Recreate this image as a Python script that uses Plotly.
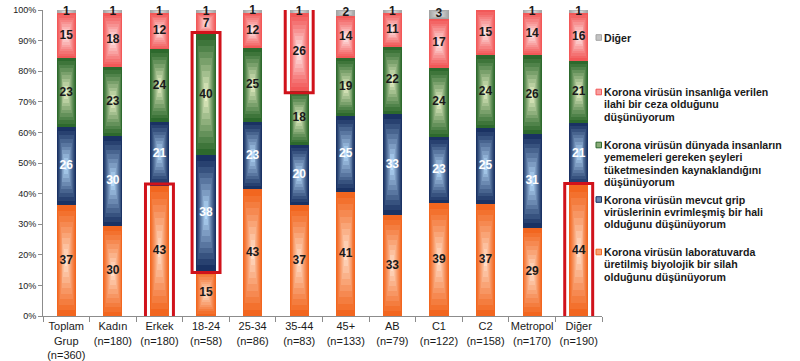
import plotly.graph_objects as go

# ---------------- data ----------------
categories = ["Toplam<br>Grup<br>(n=360)", "Kadın<br>(n=180)", "Erkek<br>(n=180)",
              "18-24<br>(n=58)", "25-34<br>(n=86)", "35-44<br>(n=83)", "45+<br>(n=133)",
              "AB<br>(n=79)", "C1<br>(n=122)", "C2<br>(n=158)", "Metropol<br>(n=170)",
              "Diğer<br>(n=190)"]

lab_weapon = [37, 30, 43, 15, 43, 37, 41, 33, 39, 37, 29, 44]
flu_evolved = [26, 30, 21, 38, 23, 20, 25, 33, 23, 25, 31, 21]
forbidden_food = [23, 23, 24, 40, 25, 18, 19, 22, 24, 24, 26, 21]
divine_punishment = [15, 18, 12, 7, 12, 26, 14, 11, 17, 15, 14, 16]
other = [1, 1, 1, 1, 1, 1, 2, 1, 3, 0, 1, 1]

series_names = [
    ["Korona virüsün laboratuvarda", "üretilmiş biyolojik bir silah", "olduğunu düşünüyorum"],
    ["Korona virüsün mevcut grip", "virüslerinin evrimleşmiş bir hali", "olduğunu düşünüyorum"],
    ["Korona virüsün dünyada insanların", "yememeleri gereken şeyleri",
     "tüketmesinden kaynaklandığını", "düşünüyorum"],
    ["Korona virüsün insanlığa verilen", "ilahi bir ceza olduğunu", "düşünüyorum"],
    ["Diğer"],
]
series_values = [lab_weapon, flu_evolved, forbidden_food, divine_punishment, other]

y_tick_vals = [0, 10, 20, 30, 40, 50, 60, 70, 80, 90, 100]
y_tick_text = ["0%", "10%", "20%", "30%", "40%", "50%", "60%", "70%", "80%", "90%", "100%"]

# highlighted (category index, series indices)
highlights = [(2, [0]), (3, [1, 2]), (5, [3, 4]), (11, [0])]

# ---------------- styles ----------------
edge_colors = ["#F2661F", "#1A3263", "#2D692D", "#F25858", "#A4A4A4"]
center_colors = ["#FFDCC6", "#B4D8F8", "#E6EFC4", "#FFE6E6", "#E2E2E2"]
label_colors = ["#1A1A1A", "#FFFFFF", "#1A1A1A", "#1A1A1A", "#1A1A1A"]
legend_first_line_px = [37.5, 92, 145, 199.5, 252][::-1]
LINE_H = 12.4

W_PX, H_PX = 800, 361
ML, MR, MT, MB = 43, 198, 10, 45
PLOT_W = W_PX - ML - MR
PLOT_H = H_PX - MT - MB
BAR_W = 0.41
N_LAYERS = 10


def hex2rgb(h):
    h = h.lstrip("#")
    return tuple(int(h[i:i + 2], 16) for i in (0, 2, 4))


def mix(c1, c2, t):
    a, b = hex2rgb(c1), hex2rgb(c2)
    return "rgb(%d,%d,%d)" % tuple(round(a[i] + (b[i] - a[i]) * t) for i in range(3))


def px_x(px):  # pixel -> paper
    return (px - ML) / PLOT_W


def px_y(py):
    return (H_PX - MB - py) / PLOT_H


n_cat = len(categories)
totals = [sum(s[i] for s in series_values) for i in range(n_cat)]
pcts = [[s[i] / totals[i] * 100 for i in range(n_cat)] for s in series_values]
bases = []
run = [0.0] * n_cat
for p in pcts:
    bases.append(run[:])
    run = [run[i] + p[i] for i in range(n_cat)]

fig = go.Figure()

# gradient-filled stacked segments (nested rectangles emulate path gradient)
for si, (p, b) in enumerate(zip(pcts, bases)):
    for k in range(N_LAYERS):
        s = 1 - k / N_LAYERS
        t = (k / (N_LAYERS - 1)) ** 1.1
        fig.add_trace(go.Bar(
            x=categories,
            y=[p[i] * s for i in range(n_cat)],
            base=[b[i] + p[i] * (1 - s) / 2 for i in range(n_cat)],
            width=BAR_W * s,
            marker=dict(color=mix(edge_colors[si], center_colors[si], t), line=dict(width=0)),
            name=" ".join(series_names[si]),
            showlegend=False,
            hoverinfo="skip" if k else "y+name",
        ))

# value labels
for si, (p, b) in enumerate(zip(pcts, bases)):
    vals = series_values[si]
    fig.add_trace(go.Scatter(
        x=categories,
        y=[b[i] + p[i] / 2 for i in range(n_cat)],
        text=[str(v) if v > 0 else "" for v in vals],
        mode="text",
        textposition="middle center",
        textfont=dict(family="Arial, Liberation Sans, sans-serif", size=12,
                      color=label_colors[si], weight="bold"),
        showlegend=False,
        hoverinfo="skip",
        cliponaxis=False,
    ))

# red highlight boxes
PAD = 0.6
for ci, sis in highlights:
    y0 = bases[min(sis)][ci]
    y1 = bases[max(sis)][ci] + pcts[max(sis)][ci]
    fig.add_shape(type="rect", xref="x", yref="y",
                  x0=ci - 0.3, x1=ci + 0.3, y0=y0 - PAD, y1=y1 + PAD,
                  line=dict(color="#D0121B", width=3), fillcolor="rgba(0,0,0,0)",
                  layer="above")

# manual legend
for si in range(len(series_values)):
    y0 = legend_first_line_px[si]
    fig.add_shape(type="rect", xref="paper", yref="paper",
                  x0=px_x(596), x1=px_x(601.5), y0=px_y(y0 + 2.8), y1=px_y(y0 - 2.8),
                  fillcolor=mix(edge_colors[si], center_colors[si], 0.5),
                  line=dict(color=edge_colors[si], width=1))
    for li, line in enumerate(series_names[si]):
        fig.add_annotation(
            xref="paper", yref="paper", x=px_x(602), y=px_y(y0 + li * LINE_H),
            xanchor="left", yanchor="middle", showarrow=False, text=line,
            font=dict(family="Arial, Liberation Sans, sans-serif", size=10.6,
                      color="#1A1A1A", weight="bold"),
        )

fig.update_layout(
    width=W_PX, height=H_PX, autosize=False,
    margin=dict(l=ML, r=MR, t=MT, b=MB, pad=0),
    barmode="overlay", bargap=0,
    plot_bgcolor="white", paper_bgcolor="white",
    showlegend=False,
    font=dict(family="Arial, Liberation Sans, sans-serif", color="#222222"),
)
fig.update_xaxes(
    type="category", categoryorder="array", categoryarray=categories,
    range=[-0.5, n_cat - 0.5], automargin=False, tickangle=0,
    showline=True, linecolor="#8C8C8C", linewidth=1,
    ticks="outside", tickson="boundaries", ticklen=5, tickcolor="#8C8C8C",
    showgrid=False, zeroline=False,
    tickfont=dict(size=11, color="#1A1A1A"),
)
fig.update_yaxes(
    range=[0, 100], tickvals=y_tick_vals, ticktext=y_tick_text, automargin=False,
    showline=True, linecolor="#8C8C8C", linewidth=1,
    ticks="outside", ticklen=4, tickcolor="#8C8C8C",
    showgrid=False, zeroline=False,
    tickfont=dict(size=9, color="#1A1A1A"),
)

# remove the browser's default 8px body margin so the figure fills the window exactly
fig.write_html("out.html",
               config={"displayModeBar": False},
               post_script="document.body.style.margin='0';document.body.style.overflow='hidden';")
